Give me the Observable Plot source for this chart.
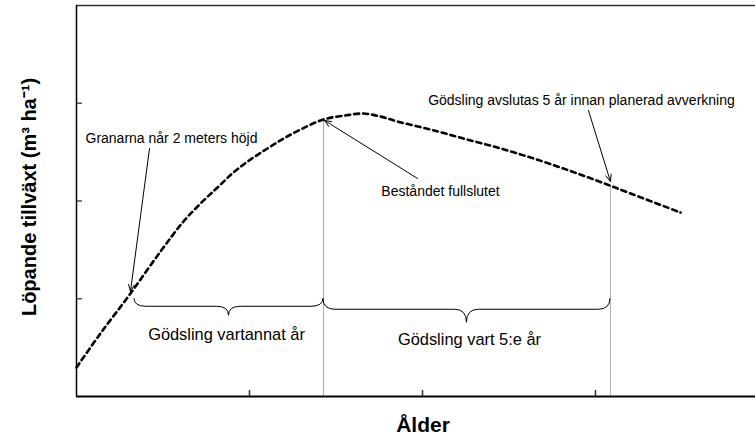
<!DOCTYPE html>
<html>
<head>
<meta charset="utf-8">
<script src="https://cdn.jsdelivr.net/npm/d3@7"></script>
<script src="https://cdn.jsdelivr.net/npm/@observablehq/plot@0.6"></script>
<style>
  html, body { margin: 0; padding: 0; background: #fff; }
</style>
</head>
<body>
<div id="chart"></div>
<script>
// Growth curve (age in years, current increment)
const curveAge = [0, 2.77, 6.24, 9.71, 12.37, 14.34, 16.30, 18.15, 20.12, 22.08, 23.93, 25.90, 28.55, 31.10, 33.18, 35.14, 37.11, 40.92, 44.74, 48.67, 52.49, 56.30, 60.12, 64.05, 69.83];
const curveGrowth = [0.297, 0.645, 1.054, 1.483, 1.790, 1.974, 2.138, 2.292, 2.425, 2.537, 2.639, 2.731, 2.834, 2.875, 2.895, 2.864, 2.813, 2.731, 2.639, 2.547, 2.445, 2.332, 2.210, 2.077, 1.882];

// axis ticks (no labels in the original)
const xTicks = [20, 40, 60];
const yTicks = [1, 2, 3];
const xDomain = [0, 78.5];
const yDomain = [0, 4];

// vertical guide lines (age, growth at curve)
const guideAge = [28.55, 61.73];
const guideGrowth = [2.834, 2.16];

// braces (from age, to age, level of brace ends)
const braceFrom = [6.71, 28.55];
const braceTo = [28.55, 61.73];
const braceLevel = [1.0, 1.0];

// annotations
const noteText = ["Granarna når 2 meters höjd", "Beståndet fullslutet", "Gödsling avslutas 5 år innan planerad avverkning", "Gödsling vartannat år", "Gödsling vart 5:e år"];
const noteAge = [10.98, 42.08, 58.38, 17.34, 45.43];
const noteGrowth = [2.639, 2.097, 3.028, 0.634, 0.583];

// arrows: from (age1, growth1) to (age2, growth2)
const arrowAge1 = [8.44, 39.42, 59.19];
const arrowGrowth1 = [2.537, 2.231, 2.926];
const arrowAge2 = [6.24, 28.67, 61.73];
const arrowGrowth2 = [1.074, 2.824, 2.20];

const xLabel = "Ålder";
const yLabel = "Löpande tillväxt (m³ ha⁻¹)";

const curve = curveAge.map((a, i) => ({age: a, growth: curveGrowth[i]}));
const guides = guideAge.map((a, i) => ({age: a, growth: guideGrowth[i]}));
const braces = braceFrom.map((a, i) => ({from: a, to: braceTo[i], level: braceLevel[i]}));
const notes = noteText.map((t, i) => ({text: t, age: noteAge[i], growth: noteGrowth[i], size: [14, 14, 14, 16.4, 16.4][i]}));
const arrows = arrowAge1.map((a, i) => ({x1: a, y1: arrowGrowth1[i], x2: arrowAge2[i], y2: arrowGrowth2[i]}));

const braceShape = [{base: 8, tip: 17}, {base: 11, tip: 24}];
const braceR = 12;

function braceMark(index, scales) {
  const g = d3.create("svg:g").attr("fill", "none").attr("stroke", "#000").attr("stroke-width", 1);
  braces.forEach((b, i) => {
    const x0 = scales.x(b.from), x1 = scales.x(b.to), yE = scales.y(b.level);
    const yB = yE + braceShape[i].base, yT = yE + braceShape[i].tip;
    const m = (x0 + x1) / 2;
    const p = d3.path();
    p.moveTo(x0, yE);
    p.quadraticCurveTo(x0, yB, x0 + braceR, yB);
    p.lineTo(m - braceR, yB);
    p.quadraticCurveTo(m, yB, m, yT);
    p.quadraticCurveTo(m, yB, m + braceR, yB);
    p.lineTo(x1 - braceR, yB);
    p.quadraticCurveTo(x1, yB, x1, yE);
    g.append("path").attr("d", p.toString());
  });
  return g.node();
}

const chart = Plot.plot({
  width: 755,
  height: 442,
  marginLeft: 76,
  marginRight: 0,
  marginTop: 5,
  marginBottom: 46,
  style: {fontFamily: "'Liberation Sans', Arial, sans-serif", background: "#fff"},
  x: {domain: xDomain, axis: null},
  y: {domain: yDomain, axis: null},
  marks: [
    Plot.ruleX(guides, {x: "age", y1: 0, y2: "growth", stroke: "#aaa", strokeWidth: 1}),
    Plot.axisX({ticks: xTicks, tickSize: 6, dy: -6, tickFormat: () => "", label: null, stroke: "#333", strokeWidth: 1.5}),
    Plot.axisY({ticks: yTicks, tickSize: 6, dx: 6, tickFormat: () => "", label: null, stroke: "#555", strokeWidth: 1.5}),
    Plot.ruleY([yDomain[1]], {stroke: "#333", strokeWidth: 1.5}),
    Plot.ruleY([0], {stroke: "#000", strokeWidth: 2}),
    Plot.ruleX([0], {stroke: "#000", strokeWidth: 1.5}),
    Plot.line(curve, {x: "age", y: "growth", curve: "catmull-rom", stroke: "#000", strokeWidth: 2.6, strokeDasharray: "5,4"}),
    braceMark,
    Plot.arrow(arrows, {x1: "x1", y1: "y1", x2: "x2", y2: "y2", stroke: "#000", strokeWidth: 1, headLength: 11, headAngle: 45, insetStart: 0, insetEnd: 0}),
    Plot.text(notes, {x: "age", y: "growth", text: "text", fontSize: "size", textAnchor: "middle", fill: "#000"}),
    Plot.text([xLabel], {frameAnchor: "bottom", text: d => d, dx: 7, dy: 35, fontSize: 21, fontWeight: "bold", fill: "#000"}),
    Plot.text([yLabel], {frameAnchor: "left", text: d => d, textAnchor: "middle", rotate: -90, dx: -47, dy: -4, fontSize: 20, fontWeight: "bold", fill: "#000"})
  ]
});
document.getElementById("chart").appendChild(chart);
</script>
</body>
</html>
